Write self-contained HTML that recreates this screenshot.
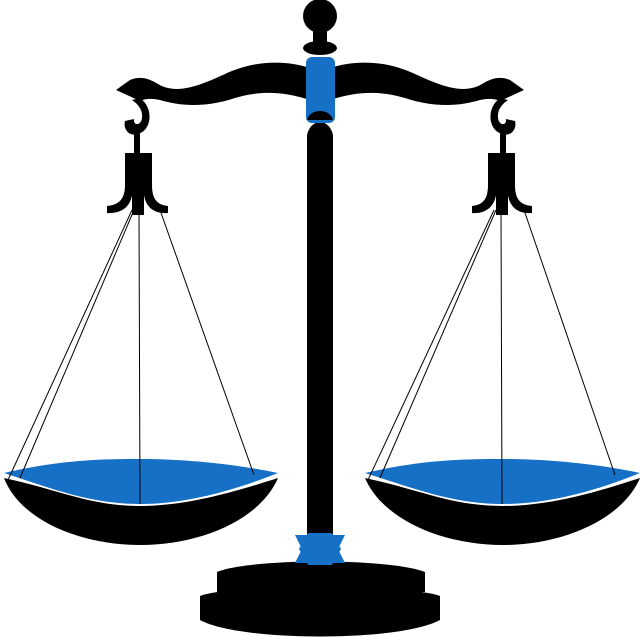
<!DOCTYPE html>
<html><head><style>html,body{margin:0;padding:0;background:#fff}svg{display:block}</style></head><body>
<svg width="640" height="637" viewBox="0 0 640 637" xmlns="http://www.w3.org/2000/svg">
<g fill="#000">
<circle cx="320" cy="16" r="17"/>
<rect x="313" y="28" width="14" height="18"/>
<ellipse cx="320" cy="48" rx="17" ry="7"/>
<!-- beam -->
<path d="M116,90 L130,80 C140,76 148,78 158,84 C175,94 195,88 225,74 C255,60 285,60 310,68 L310,100 C285,92 262,90 235,98 C205,108 180,106 160,100 C150,98 145,99 140,101 Z"/>
<path d="M524,90 L510,80 C500,76 492,78 482,84 C465,94 445,88 415,74 C385,60 355,60 330,68 L330,100 C355,92 378,90 405,98 C435,108 460,106 480,100 C490,98 495,99 500,101 Z"/>
<!-- hooks -->
<path d="M140,98 C154,108 152,130 138,134 C128,137 123,128 125,121 L134,119 C133,126 141,126 142,118 C143,110 138,104 132,100 Z"/>
<path d="M500,98 C486,108 488,130 502,134 C512,137 517,128 515,121 L506,119 C507,126 499,126 498,118 C497,110 502,104 508,100 Z"/>
<rect x="134" y="130" width="6" height="25"/>
<rect x="500" y="130" width="6" height="25"/>
<!-- hangers -->
<path d="M125,153 L152,153 L152,185 C152,200 158,205 168,206 L168,213 C155,214 146,208 144,195 L144,215 L132,215 L132,195 C130,208 120,214 107,213 L107,206 C118,205 125,200 125,185 Z"/>
<path d="M488,153 L515,153 L515,185 C515,200 521,205 532,206 L532,213 C519,214 510,208 508,195 L508,215 L496,215 L496,195 C494,208 484,214 472,213 L472,206 C482,205 488,200 488,185 Z"/>
<!-- pole -->
<path d="M307,135 C309,126 315,122 320,122 C325,122 331,126 333,135 L333,540 L307,540 Z"/>
<!-- base -->
<path d="M217,572 C250,558 390,558 425,572 L425,592 L217,592 Z"/>
<path d="M200,596 C230,584 410,584 440,596 L440,620 C400,642 240,642 200,620 Z"/>
<!-- pan bowls -->
<path d="M4,478 C60,490 90,506 140,506 C190,506 240,490 278,478 C260,520 200,545 140,545 C80,545 20,520 4,478 Z"/>
<path d="M365,478 C421,490 451,506 503,506 C553,506 603,490 640,478 C622,520 562,545 503,545 C443,545 383,520 365,478 Z"/>
</g>
<g fill="#1570c6">
<rect x="306" y="57" width="29" height="66" rx="6"/>
<path d="M4,473 C60,460 100,459 140,459 C190,459 240,465 278,473 C240,488 190,504 140,504 C90,504 50,488 4,473 Z"/>
<path d="M365,473 C421,460 461,459 503,459 C553,459 603,465 640,473 C603,488 553,504 503,504 C453,504 413,488 365,473 Z"/>
<polygon points="295,535 345,535 338,549 345,563 295,563 302,549"/>
<polygon points="308,533 332,533 341,549 332,565 308,565 299,549"/>
</g>
<path d="M307,120 C310,108 330,108 333,120 Z" fill="#000"/>
<g stroke="#000" stroke-width="1" fill="none">
<line x1="132" y1="210" x2="8" y2="480"/>
<line x1="134" y1="210" x2="20" y2="478"/>
<line x1="139" y1="210" x2="140" y2="504"/>
<line x1="160" y1="210" x2="254" y2="475"/>
<line x1="494" y1="210" x2="368" y2="480"/>
<line x1="496" y1="210" x2="380" y2="478"/>
<line x1="501" y1="210" x2="502" y2="504"/>
<line x1="524" y1="210" x2="615" y2="475"/>
</g>
</svg>
</body></html>
